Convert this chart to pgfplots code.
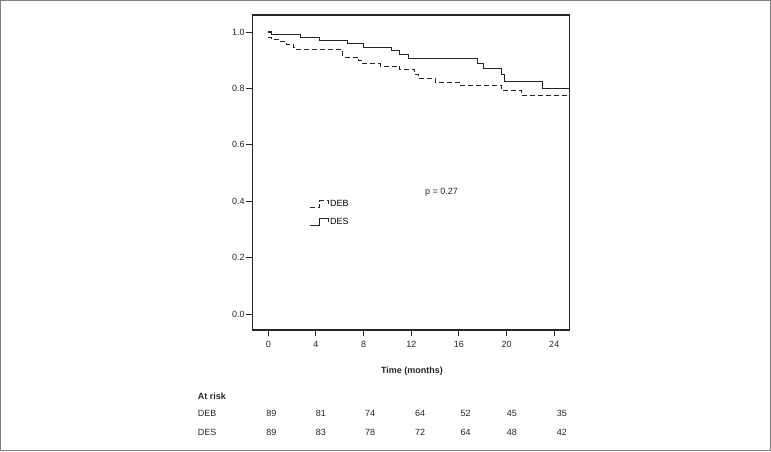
\documentclass[border=0pt]{standalone}
\usepackage{pgfplots}
\pgfplotsset{compat=1.18}
\usepackage{fontspec}
\setmainfont{Liberation Sans}
\newcommand{\fs}{\fontsize{9}{10}\selectfont}
\tikzset{risk/.style={font=\fs, text=black!85, text height=6.5pt, text depth=0pt, inner sep=0pt}}
\begin{document}
\begin{tikzpicture}[x=1pt,y=1pt]
\useasboundingbox (0,0) rectangle (771,451);
\draw[gray, line width=1.2pt] (0.6,0.6) rectangle (770.4,450.4);
\begin{axis}[
  at={(252.3pt,121pt)}, anchor=south west,
  width=317.2pt, height=315pt, scale only axis,
  xmin=-1.341, xmax=25.28, ymin=-0.0567, ymax=1.0603,
  xtick={0,4,8,12,16,20,24}, ytick={0,0.2,0.4,0.6,0.8,1.0},
  tick align=outside, xtick pos=bottom, ytick pos=left,
  major tick length=6pt,
  axis line style={black!85, line width=1.1pt},
  every tick/.style={black!85, line width=0.9pt},
  /pgf/number format/assume math mode=true,
  ticklabel style={font=\fs, text=black!85},
  yticklabel style={/pgf/number format/fixed, /pgf/number format/fixed zerofill, /pgf/number format/precision=1, inner sep=1.5pt},
  xticklabel style={inner sep=2pt, yshift=-3.5pt},
  clip=false,
  legend style={draw=none, fill=none, at={(axis cs:3.44,0.408)}, anchor=north west,
    font=\fs, inner sep=0pt, row sep=8pt,
    nodes={inner sep=1pt}},
  legend cell align=left,
  legend image code/.code={\draw[#1] (0pt,-3.7pt) -- (9.5pt,-3.7pt) -- (9.5pt,3.3pt) -- (18.5pt,3.3pt) -- (18.5pt,-0.5pt);},
]
\addplot[const plot, black!85, line width=1.15pt, dash pattern=on 5pt off 3pt] coordinates {
(0,0.981) (0.3,0.974) (0.87,0.965) (1.5,0.955) (2.1,0.946) (2.35,0.937)
(6.2,0.911) (7.6,0.900) (7.85,0.889) (9.4,0.879) (11.0,0.867)
(12.3,0.849) (12.6,0.834) (14.0,0.822) (16.15,0.810) (19.6,0.793)
(21.26,0.774) (25.28,0.774)};
\addlegendentry{DEB}
\addplot[const plot, black!85, line width=1.15pt] coordinates {
(0,1.0) (0.3,0.990) (2.68,0.981) (4.27,0.970) (6.68,0.958) (7.99,0.945)
(10.36,0.934) (11.0,0.920) (11.76,0.905) (17.55,0.888) (18.05,0.872)
(19.6,0.849) (19.8,0.825) (23.0,0.800) (25.28,0.800)};
\addlegendentry{DES}
\node[font=\fs, text=black!85] at (axis cs:14.53,0.430) {p = 0.27};
\node[font=\fs\bfseries, text=black!85] at (axis cs:12.06,-0.201) {Time (months)};
\node[font=\fs\bfseries, text=black!85, anchor=west, inner sep=0pt] at (axis cs:-5.93,-0.291) {At risk};
\node[risk, anchor=west] at (axis cs:-5.93,-0.352) {DEB};
\node[risk, anchor=west] at (axis cs:-5.93,-0.418) {DES};
\node[risk] at (axis cs:0.25,-0.352) {89};
\node[risk] at (axis cs:4.41,-0.352) {81};
\node[risk] at (axis cs:8.55,-0.352) {74};
\node[risk] at (axis cs:12.74,-0.352) {64};
\node[risk] at (axis cs:16.57,-0.352) {52};
\node[risk] at (axis cs:20.45,-0.352) {45};
\node[risk] at (axis cs:24.64,-0.352) {35};
\node[risk] at (axis cs:0.25,-0.418) {89};
\node[risk] at (axis cs:4.41,-0.418) {83};
\node[risk] at (axis cs:8.55,-0.418) {78};
\node[risk] at (axis cs:12.74,-0.418) {72};
\node[risk] at (axis cs:16.57,-0.418) {64};
\node[risk] at (axis cs:20.45,-0.418) {48};
\node[risk] at (axis cs:24.64,-0.418) {42};
\end{axis}
\end{tikzpicture}
\end{document}
